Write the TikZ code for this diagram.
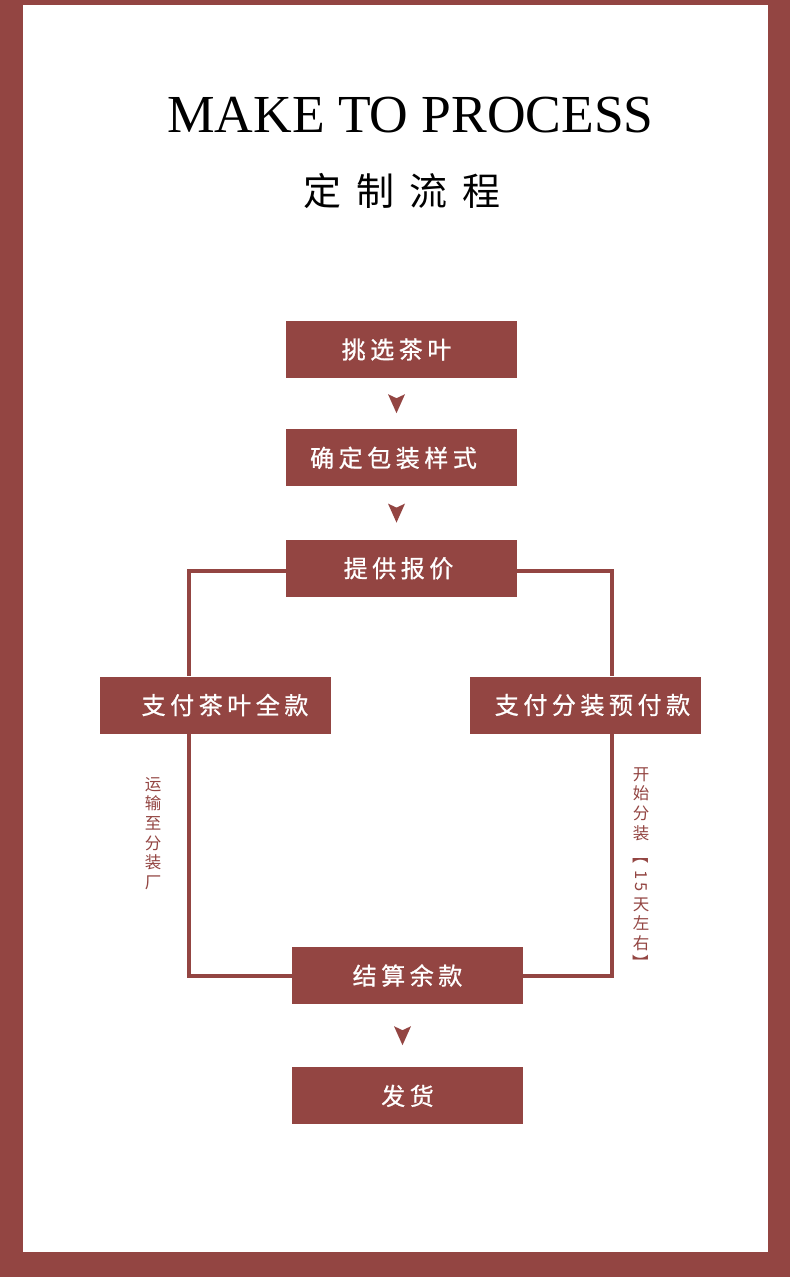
\documentclass[tikz,border=0pt]{standalone}
\usepackage{fontspec}
\usepackage{graphicx}
\setmainfont{Liberation Serif}
\newfontfamily\cjk{Noto Sans CJK SC}
\newfontfamily\cjkwide[LetterSpace=19, FakeBold=0.9]{Noto Sans CJK SC}
\newfontfamily\cjktitle[LetterSpace=40]{Noto Sans CJK SC}
\usetikzlibrary{positioning}
\definecolor{teaRed}{RGB}{147,69,66}

% small filled arrowhead half way between two boxes
\newcommand\downmark[2]{%
  \path (#1.south) -- (#2.north) coordinate[midway, xshift=-5pt] (#1-tip);
  \fill[tipmark] (#1-tip) ++(0,9.5) -- ++(-8.5,-19) -- ++(8.5,4) -- ++(8.5,-4) -- cycle;
}

\begin{document}
\begin{tikzpicture}[
    x=1pt, y=-1pt,
    node distance=51pt,
    stepbox/.style={rectangle, fill=teaRed, text=white, minimum width=231pt, minimum height=57pt, inner sep=0pt, font=\cjkwide\fontsize{24}{24}\selectfont},
    link/.style={draw=teaRed, line width=4pt},
    sidenote/.style={text=teaRed, align=center, inner sep=0pt, font=\cjk\fontsize{16.5}{19.7}\selectfont},
    tipmark/.style={fill=teaRed}
]
% frame
\fill[teaRed] (0,0) rectangle (790,1277);
\fill[white] (23,5) rectangle (768,1252);
\useasboundingbox (0,0) rectangle (790,1277);

\node[anchor=base, inner sep=0pt, font=\fontsize{53.5}{53.5}\selectfont] (title) at (410.5,132) {MAKE TO PROCESS};
\node[inner sep=0pt, font=\cjktitle\fontsize{38}{38}\selectfont] (subtitle) at (402,191) {定制流程};

\node[stepbox] (pick) at (401.5,349.5) {\hspace{-10pt}挑选茶叶};
\node[stepbox, below=of pick] (pack) {\hspace{-16pt}确定包装样式};
\node[stepbox, below=53pt of pack] (quote) {\hspace{-6pt}提供报价};
\node[stepbox] (payfull) at (215,705) {\hspace{20pt}支付茶叶全款};
\node[stepbox] (paypre) at (585.5,705) {\hspace{14pt}支付分装预付款};
\node[stepbox] (settle) at (407.5,975.5) {结算余款};
\node[stepbox, below=63pt of settle] (ship) {发货};

\downmark{pick}{pack}
\downmark{pack}{quote}
\downmark{settle}{ship}

% the two branches
\coordinate (lx) at (189,0);
\coordinate (rx) at (612,0);
\draw[link] ([yshift=-2.5pt]quote.west) -| (payfull.north -| lx);
\draw[link] (payfull.south -| lx) |- (settle.west);
\draw[link] ([yshift=-2.5pt]quote.east) -| (paypre.north -| rx);
\draw[link] (paypre.south -| rx) |- (settle.east);

\node[sidenote, anchor=north] (haul) at (153,777) {运\\输\\至\\分\\装\\厂};
\node[sidenote, anchor=north] (bottle) at (641,767) {开\\始\\分\\装\\[3pt]\rotatebox[origin=c]{-90}{【}\\[5pt]\rotatebox[origin=c]{-90}{1\hspace{3pt}5}\\[4pt]天\\左\\右\\\rotatebox[origin=c]{-90}{】}};
\end{tikzpicture}
\end{document}
